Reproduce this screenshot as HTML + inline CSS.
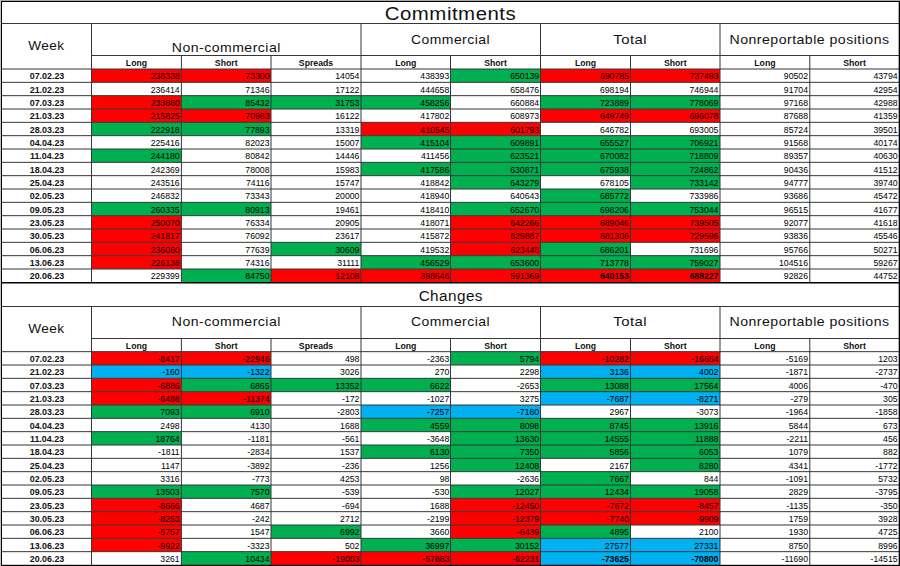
<!DOCTYPE html><html><head><meta charset="utf-8"><style>html,body{margin:0;padding:0;background:#fff;}svg{display:block}text{font-family:"Liberation Sans",sans-serif;}</style></head><body>
<svg width="900" height="566" viewBox="0 0 900 566">
<rect x="0" y="0" width="900" height="566" fill="#fff"/>
<rect x="91.50" y="69.00" width="89.90" height="13.333" fill="#ff0000"/>
<rect x="181.40" y="69.00" width="89.60" height="13.333" fill="#ff0000"/>
<rect x="450.50" y="69.00" width="90.00" height="13.333" fill="#00b050"/>
<rect x="540.50" y="69.00" width="90.00" height="13.333" fill="#ff0000"/>
<rect x="630.50" y="69.00" width="89.50" height="13.333" fill="#ff0000"/>
<rect x="91.50" y="95.67" width="89.90" height="13.333" fill="#ff0000"/>
<rect x="181.40" y="95.67" width="89.60" height="13.333" fill="#00b050"/>
<rect x="271.00" y="95.67" width="90.00" height="13.333" fill="#00b050"/>
<rect x="361.00" y="95.67" width="89.50" height="13.333" fill="#00b050"/>
<rect x="540.50" y="95.67" width="90.00" height="13.333" fill="#00b050"/>
<rect x="630.50" y="95.67" width="89.50" height="13.333" fill="#00b050"/>
<rect x="91.50" y="109.00" width="89.90" height="13.333" fill="#ff0000"/>
<rect x="181.40" y="109.00" width="89.60" height="13.333" fill="#ff0000"/>
<rect x="540.50" y="109.00" width="90.00" height="13.333" fill="#ff0000"/>
<rect x="630.50" y="109.00" width="89.50" height="13.333" fill="#ff0000"/>
<rect x="91.50" y="122.33" width="89.90" height="13.333" fill="#00b050"/>
<rect x="181.40" y="122.33" width="89.60" height="13.333" fill="#00b050"/>
<rect x="361.00" y="122.33" width="89.50" height="13.333" fill="#ff0000"/>
<rect x="450.50" y="122.33" width="90.00" height="13.333" fill="#ff0000"/>
<rect x="361.00" y="135.67" width="89.50" height="13.333" fill="#00b050"/>
<rect x="450.50" y="135.67" width="90.00" height="13.333" fill="#00b050"/>
<rect x="540.50" y="135.67" width="90.00" height="13.333" fill="#00b050"/>
<rect x="630.50" y="135.67" width="89.50" height="13.333" fill="#00b050"/>
<rect x="91.50" y="149.00" width="89.90" height="13.333" fill="#00b050"/>
<rect x="450.50" y="149.00" width="90.00" height="13.333" fill="#00b050"/>
<rect x="540.50" y="149.00" width="90.00" height="13.333" fill="#00b050"/>
<rect x="630.50" y="149.00" width="89.50" height="13.333" fill="#00b050"/>
<rect x="361.00" y="162.33" width="89.50" height="13.333" fill="#00b050"/>
<rect x="450.50" y="162.33" width="90.00" height="13.333" fill="#00b050"/>
<rect x="540.50" y="162.33" width="90.00" height="13.333" fill="#00b050"/>
<rect x="630.50" y="162.33" width="89.50" height="13.333" fill="#00b050"/>
<rect x="450.50" y="175.66" width="90.00" height="13.333" fill="#00b050"/>
<rect x="630.50" y="175.66" width="89.50" height="13.333" fill="#00b050"/>
<rect x="540.50" y="189.00" width="90.00" height="13.333" fill="#00b050"/>
<rect x="91.50" y="202.33" width="89.90" height="13.333" fill="#00b050"/>
<rect x="181.40" y="202.33" width="89.60" height="13.333" fill="#00b050"/>
<rect x="450.50" y="202.33" width="90.00" height="13.333" fill="#00b050"/>
<rect x="540.50" y="202.33" width="90.00" height="13.333" fill="#00b050"/>
<rect x="630.50" y="202.33" width="89.50" height="13.333" fill="#00b050"/>
<rect x="91.50" y="215.66" width="89.90" height="13.333" fill="#ff0000"/>
<rect x="450.50" y="215.66" width="90.00" height="13.333" fill="#ff0000"/>
<rect x="540.50" y="215.66" width="90.00" height="13.333" fill="#ff0000"/>
<rect x="630.50" y="215.66" width="89.50" height="13.333" fill="#ff0000"/>
<rect x="91.50" y="229.00" width="89.90" height="13.333" fill="#ff0000"/>
<rect x="450.50" y="229.00" width="90.00" height="13.333" fill="#ff0000"/>
<rect x="540.50" y="229.00" width="90.00" height="13.333" fill="#ff0000"/>
<rect x="630.50" y="229.00" width="89.50" height="13.333" fill="#ff0000"/>
<rect x="91.50" y="242.33" width="89.90" height="13.333" fill="#ff0000"/>
<rect x="271.00" y="242.33" width="90.00" height="13.333" fill="#00b050"/>
<rect x="450.50" y="242.33" width="90.00" height="13.333" fill="#ff0000"/>
<rect x="540.50" y="242.33" width="90.00" height="13.333" fill="#00b050"/>
<rect x="91.50" y="255.66" width="89.90" height="13.333" fill="#ff0000"/>
<rect x="361.00" y="255.66" width="89.50" height="13.333" fill="#00b050"/>
<rect x="450.50" y="255.66" width="90.00" height="13.333" fill="#00b050"/>
<rect x="540.50" y="255.66" width="90.00" height="13.333" fill="#00b050"/>
<rect x="630.50" y="255.66" width="89.50" height="13.333" fill="#00b050"/>
<rect x="181.40" y="269.00" width="89.60" height="13.333" fill="#00b050"/>
<rect x="271.00" y="269.00" width="90.00" height="13.333" fill="#ff0000"/>
<rect x="361.00" y="269.00" width="89.50" height="13.333" fill="#ff0000"/>
<rect x="450.50" y="269.00" width="90.00" height="13.333" fill="#ff0000"/>
<rect x="540.50" y="269.00" width="90.00" height="13.333" fill="#ff0000"/>
<rect x="630.50" y="269.00" width="89.50" height="13.333" fill="#ff0000"/>
<line x1="1" x2="899" y1="23.5" y2="23.5" stroke="#363636" stroke-width="1"/>
<line x1="91.5" x2="899" y1="55.5" y2="55.5" stroke="#363636" stroke-width="1"/>
<line x1="1" x2="899" y1="69.00" y2="69.00" stroke="#363636" stroke-width="1"/>
<line x1="1" x2="899" y1="82.33" y2="82.33" stroke="#363636" stroke-width="1"/>
<line x1="1" x2="899" y1="95.67" y2="95.67" stroke="#363636" stroke-width="1"/>
<line x1="1" x2="899" y1="109.00" y2="109.00" stroke="#363636" stroke-width="1"/>
<line x1="1" x2="899" y1="122.33" y2="122.33" stroke="#363636" stroke-width="1"/>
<line x1="1" x2="899" y1="135.67" y2="135.67" stroke="#363636" stroke-width="1"/>
<line x1="1" x2="899" y1="149.00" y2="149.00" stroke="#363636" stroke-width="1"/>
<line x1="1" x2="899" y1="162.33" y2="162.33" stroke="#363636" stroke-width="1"/>
<line x1="1" x2="899" y1="175.66" y2="175.66" stroke="#363636" stroke-width="1"/>
<line x1="1" x2="899" y1="189.00" y2="189.00" stroke="#363636" stroke-width="1"/>
<line x1="1" x2="899" y1="202.33" y2="202.33" stroke="#363636" stroke-width="1"/>
<line x1="1" x2="899" y1="215.66" y2="215.66" stroke="#363636" stroke-width="1"/>
<line x1="1" x2="899" y1="229.00" y2="229.00" stroke="#363636" stroke-width="1"/>
<line x1="1" x2="899" y1="242.33" y2="242.33" stroke="#363636" stroke-width="1"/>
<line x1="1" x2="899" y1="255.66" y2="255.66" stroke="#363636" stroke-width="1"/>
<line x1="1" x2="899" y1="269.00" y2="269.00" stroke="#363636" stroke-width="1"/>
<line x1="91.5" x2="91.5" y1="23.5" y2="282.33" stroke="#363636" stroke-width="1"/>
<line x1="361.0" x2="361.0" y1="23.5" y2="282.33" stroke="#363636" stroke-width="1"/>
<line x1="540.5" x2="540.5" y1="23.5" y2="282.33" stroke="#363636" stroke-width="1"/>
<line x1="720.0" x2="720.0" y1="23.5" y2="282.33" stroke="#363636" stroke-width="1"/>
<line x1="181.4" x2="181.4" y1="55.5" y2="282.33" stroke="#363636" stroke-width="1"/>
<line x1="271.0" x2="271.0" y1="55.5" y2="282.33" stroke="#363636" stroke-width="1"/>
<line x1="450.5" x2="450.5" y1="55.5" y2="282.33" stroke="#363636" stroke-width="1"/>
<line x1="630.5" x2="630.5" y1="55.5" y2="282.33" stroke="#363636" stroke-width="1"/>
<line x1="809.8" x2="809.8" y1="55.5" y2="282.33" stroke="#363636" stroke-width="1"/>
<text x="450.5" y="20.0" font-size="18" text-anchor="middle" textLength="131.5" lengthAdjust="spacingAndGlyphs" letter-spacing="0.45" fill="#111">Commitments</text>
<text x="46.4" y="50.3" font-size="13.4" text-anchor="middle" textLength="36.5" lengthAdjust="spacingAndGlyphs" letter-spacing="0.45" fill="#111">Week</text>
<text x="226.3" y="52.2" font-size="13.4" text-anchor="middle" textLength="109" lengthAdjust="spacingAndGlyphs" letter-spacing="0.45" fill="#111">Non-commercial</text>
<text x="450.5" y="43.7" font-size="13.4" text-anchor="middle" textLength="79" lengthAdjust="spacingAndGlyphs" letter-spacing="0.45" fill="#111">Commercial</text>
<text x="630.2" y="43.7" font-size="13.4" text-anchor="middle" textLength="34" lengthAdjust="spacingAndGlyphs" letter-spacing="0.45" fill="#111">Total</text>
<text x="809.5" y="43.7" font-size="13.4" text-anchor="middle" textLength="160" lengthAdjust="spacingAndGlyphs" letter-spacing="0.45" fill="#111">Nonreportable positions</text>
<text x="136.45" y="65.9" font-size="8.7" font-weight="bold" text-anchor="middle" fill="#111">Long</text>
<text x="226.20" y="65.9" font-size="8.7" font-weight="bold" text-anchor="middle" fill="#111">Short</text>
<text x="316.00" y="65.9" font-size="8.7" font-weight="bold" text-anchor="middle" fill="#111">Spreads</text>
<text x="405.75" y="65.9" font-size="8.7" font-weight="bold" text-anchor="middle" fill="#111">Long</text>
<text x="495.50" y="65.9" font-size="8.7" font-weight="bold" text-anchor="middle" fill="#111">Short</text>
<text x="585.50" y="65.9" font-size="8.7" font-weight="bold" text-anchor="middle" fill="#111">Long</text>
<text x="675.25" y="65.9" font-size="8.7" font-weight="bold" text-anchor="middle" fill="#111">Short</text>
<text x="764.90" y="65.9" font-size="8.7" font-weight="bold" text-anchor="middle" fill="#111">Long</text>
<text x="854.50" y="65.9" font-size="8.7" font-weight="bold" text-anchor="middle" fill="#111">Short</text>
<text x="47.0" y="79.30" font-size="8.9" font-weight="bold" text-anchor="middle" fill="#111">07.02.23</text>
<text x="179.7" y="79.30" font-size="8.7" text-anchor="end" fill="#000">238338</text>
<text x="269.5" y="79.30" font-size="8.7" text-anchor="end" fill="#000">73300</text>
<text x="359.4" y="79.30" font-size="8.7" text-anchor="end" fill="#000">14054</text>
<text x="449.3" y="79.30" font-size="8.7" text-anchor="end" fill="#000">438393</text>
<text x="539.2" y="79.30" font-size="8.7" text-anchor="end" fill="#000">650139</text>
<text x="628.9" y="79.30" font-size="8.7" text-anchor="end" fill="#000">690785</text>
<text x="718.4" y="79.30" font-size="8.7" text-anchor="end" fill="#000">737493</text>
<text x="808.0" y="79.30" font-size="8.7" text-anchor="end" fill="#000">90502</text>
<text x="897.6" y="79.30" font-size="8.7" text-anchor="end" fill="#000">43794</text>
<text x="47.0" y="92.63" font-size="8.9" font-weight="bold" text-anchor="middle" fill="#111">21.02.23</text>
<text x="179.7" y="92.63" font-size="8.7" text-anchor="end" fill="#000">236414</text>
<text x="269.5" y="92.63" font-size="8.7" text-anchor="end" fill="#000">71346</text>
<text x="359.4" y="92.63" font-size="8.7" text-anchor="end" fill="#000">17122</text>
<text x="449.3" y="92.63" font-size="8.7" text-anchor="end" fill="#000">444658</text>
<text x="539.2" y="92.63" font-size="8.7" text-anchor="end" fill="#000">658476</text>
<text x="628.9" y="92.63" font-size="8.7" text-anchor="end" fill="#000">698194</text>
<text x="718.4" y="92.63" font-size="8.7" text-anchor="end" fill="#000">746944</text>
<text x="808.0" y="92.63" font-size="8.7" text-anchor="end" fill="#000">91704</text>
<text x="897.6" y="92.63" font-size="8.7" text-anchor="end" fill="#000">42954</text>
<text x="47.0" y="105.97" font-size="8.9" font-weight="bold" text-anchor="middle" fill="#111">07.03.23</text>
<text x="179.7" y="105.97" font-size="8.7" text-anchor="end" fill="#000">233880</text>
<text x="269.5" y="105.97" font-size="8.7" text-anchor="end" fill="#000">85432</text>
<text x="359.4" y="105.97" font-size="8.7" text-anchor="end" fill="#000">31753</text>
<text x="449.3" y="105.97" font-size="8.7" text-anchor="end" fill="#000">458256</text>
<text x="539.2" y="105.97" font-size="8.7" text-anchor="end" fill="#000">660884</text>
<text x="628.9" y="105.97" font-size="8.7" text-anchor="end" fill="#000">723889</text>
<text x="718.4" y="105.97" font-size="8.7" text-anchor="end" fill="#000">778069</text>
<text x="808.0" y="105.97" font-size="8.7" text-anchor="end" fill="#000">97168</text>
<text x="897.6" y="105.97" font-size="8.7" text-anchor="end" fill="#000">42988</text>
<text x="47.0" y="119.30" font-size="8.9" font-weight="bold" text-anchor="middle" fill="#111">21.03.23</text>
<text x="179.7" y="119.30" font-size="8.7" text-anchor="end" fill="#000">215825</text>
<text x="269.5" y="119.30" font-size="8.7" text-anchor="end" fill="#000">70983</text>
<text x="359.4" y="119.30" font-size="8.7" text-anchor="end" fill="#000">16122</text>
<text x="449.3" y="119.30" font-size="8.7" text-anchor="end" fill="#000">417802</text>
<text x="539.2" y="119.30" font-size="8.7" text-anchor="end" fill="#000">608973</text>
<text x="628.9" y="119.30" font-size="8.7" text-anchor="end" fill="#000">649749</text>
<text x="718.4" y="119.30" font-size="8.7" text-anchor="end" fill="#000">696078</text>
<text x="808.0" y="119.30" font-size="8.7" text-anchor="end" fill="#000">87688</text>
<text x="897.6" y="119.30" font-size="8.7" text-anchor="end" fill="#000">41359</text>
<text x="47.0" y="132.63" font-size="8.9" font-weight="bold" text-anchor="middle" fill="#111">28.03.23</text>
<text x="179.7" y="132.63" font-size="8.7" text-anchor="end" fill="#000">222918</text>
<text x="269.5" y="132.63" font-size="8.7" text-anchor="end" fill="#000">77893</text>
<text x="359.4" y="132.63" font-size="8.7" text-anchor="end" fill="#000">13319</text>
<text x="449.3" y="132.63" font-size="8.7" text-anchor="end" fill="#000">410545</text>
<text x="539.2" y="132.63" font-size="8.7" text-anchor="end" fill="#000">601793</text>
<text x="628.9" y="132.63" font-size="8.7" text-anchor="end" fill="#000">646782</text>
<text x="718.4" y="132.63" font-size="8.7" text-anchor="end" fill="#000">693005</text>
<text x="808.0" y="132.63" font-size="8.7" text-anchor="end" fill="#000">85724</text>
<text x="897.6" y="132.63" font-size="8.7" text-anchor="end" fill="#000">39501</text>
<text x="47.0" y="145.97" font-size="8.9" font-weight="bold" text-anchor="middle" fill="#111">04.04.23</text>
<text x="179.7" y="145.97" font-size="8.7" text-anchor="end" fill="#000">225416</text>
<text x="269.5" y="145.97" font-size="8.7" text-anchor="end" fill="#000">82023</text>
<text x="359.4" y="145.97" font-size="8.7" text-anchor="end" fill="#000">15007</text>
<text x="449.3" y="145.97" font-size="8.7" text-anchor="end" fill="#000">415104</text>
<text x="539.2" y="145.97" font-size="8.7" text-anchor="end" fill="#000">609891</text>
<text x="628.9" y="145.97" font-size="8.7" text-anchor="end" fill="#000">655527</text>
<text x="718.4" y="145.97" font-size="8.7" text-anchor="end" fill="#000">706921</text>
<text x="808.0" y="145.97" font-size="8.7" text-anchor="end" fill="#000">91568</text>
<text x="897.6" y="145.97" font-size="8.7" text-anchor="end" fill="#000">40174</text>
<text x="47.0" y="159.30" font-size="8.9" font-weight="bold" text-anchor="middle" fill="#111">11.04.23</text>
<text x="179.7" y="159.30" font-size="8.7" text-anchor="end" fill="#000">244180</text>
<text x="269.5" y="159.30" font-size="8.7" text-anchor="end" fill="#000">80842</text>
<text x="359.4" y="159.30" font-size="8.7" text-anchor="end" fill="#000">14446</text>
<text x="449.3" y="159.30" font-size="8.7" text-anchor="end" fill="#000">411456</text>
<text x="539.2" y="159.30" font-size="8.7" text-anchor="end" fill="#000">623521</text>
<text x="628.9" y="159.30" font-size="8.7" text-anchor="end" fill="#000">670082</text>
<text x="718.4" y="159.30" font-size="8.7" text-anchor="end" fill="#000">718809</text>
<text x="808.0" y="159.30" font-size="8.7" text-anchor="end" fill="#000">89357</text>
<text x="897.6" y="159.30" font-size="8.7" text-anchor="end" fill="#000">40630</text>
<text x="47.0" y="172.63" font-size="8.9" font-weight="bold" text-anchor="middle" fill="#111">18.04.23</text>
<text x="179.7" y="172.63" font-size="8.7" text-anchor="end" fill="#000">242369</text>
<text x="269.5" y="172.63" font-size="8.7" text-anchor="end" fill="#000">78008</text>
<text x="359.4" y="172.63" font-size="8.7" text-anchor="end" fill="#000">15983</text>
<text x="449.3" y="172.63" font-size="8.7" text-anchor="end" fill="#000">417586</text>
<text x="539.2" y="172.63" font-size="8.7" text-anchor="end" fill="#000">630871</text>
<text x="628.9" y="172.63" font-size="8.7" text-anchor="end" fill="#000">675938</text>
<text x="718.4" y="172.63" font-size="8.7" text-anchor="end" fill="#000">724862</text>
<text x="808.0" y="172.63" font-size="8.7" text-anchor="end" fill="#000">90436</text>
<text x="897.6" y="172.63" font-size="8.7" text-anchor="end" fill="#000">41512</text>
<text x="47.0" y="185.96" font-size="8.9" font-weight="bold" text-anchor="middle" fill="#111">25.04.23</text>
<text x="179.7" y="185.96" font-size="8.7" text-anchor="end" fill="#000">243516</text>
<text x="269.5" y="185.96" font-size="8.7" text-anchor="end" fill="#000">74116</text>
<text x="359.4" y="185.96" font-size="8.7" text-anchor="end" fill="#000">15747</text>
<text x="449.3" y="185.96" font-size="8.7" text-anchor="end" fill="#000">418842</text>
<text x="539.2" y="185.96" font-size="8.7" text-anchor="end" fill="#000">643279</text>
<text x="628.9" y="185.96" font-size="8.7" text-anchor="end" fill="#000">678105</text>
<text x="718.4" y="185.96" font-size="8.7" text-anchor="end" fill="#000">733142</text>
<text x="808.0" y="185.96" font-size="8.7" text-anchor="end" fill="#000">94777</text>
<text x="897.6" y="185.96" font-size="8.7" text-anchor="end" fill="#000">39740</text>
<text x="47.0" y="199.30" font-size="8.9" font-weight="bold" text-anchor="middle" fill="#111">02.05.23</text>
<text x="179.7" y="199.30" font-size="8.7" text-anchor="end" fill="#000">246832</text>
<text x="269.5" y="199.30" font-size="8.7" text-anchor="end" fill="#000">73343</text>
<text x="359.4" y="199.30" font-size="8.7" text-anchor="end" fill="#000">20000</text>
<text x="449.3" y="199.30" font-size="8.7" text-anchor="end" fill="#000">418940</text>
<text x="539.2" y="199.30" font-size="8.7" text-anchor="end" fill="#000">640643</text>
<text x="628.9" y="199.30" font-size="8.7" text-anchor="end" fill="#000">685772</text>
<text x="718.4" y="199.30" font-size="8.7" text-anchor="end" fill="#000">733986</text>
<text x="808.0" y="199.30" font-size="8.7" text-anchor="end" fill="#000">93686</text>
<text x="897.6" y="199.30" font-size="8.7" text-anchor="end" fill="#000">45472</text>
<text x="47.0" y="212.63" font-size="8.9" font-weight="bold" text-anchor="middle" fill="#111">09.05.23</text>
<text x="179.7" y="212.63" font-size="8.7" text-anchor="end" fill="#000">260335</text>
<text x="269.5" y="212.63" font-size="8.7" text-anchor="end" fill="#000">80913</text>
<text x="359.4" y="212.63" font-size="8.7" text-anchor="end" fill="#000">19461</text>
<text x="449.3" y="212.63" font-size="8.7" text-anchor="end" fill="#000">418410</text>
<text x="539.2" y="212.63" font-size="8.7" text-anchor="end" fill="#000">652670</text>
<text x="628.9" y="212.63" font-size="8.7" text-anchor="end" fill="#000">698206</text>
<text x="718.4" y="212.63" font-size="8.7" text-anchor="end" fill="#000">753044</text>
<text x="808.0" y="212.63" font-size="8.7" text-anchor="end" fill="#000">96515</text>
<text x="897.6" y="212.63" font-size="8.7" text-anchor="end" fill="#000">41677</text>
<text x="47.0" y="225.96" font-size="8.9" font-weight="bold" text-anchor="middle" fill="#111">23.05.23</text>
<text x="179.7" y="225.96" font-size="8.7" text-anchor="end" fill="#000">250070</text>
<text x="269.5" y="225.96" font-size="8.7" text-anchor="end" fill="#000">76334</text>
<text x="359.4" y="225.96" font-size="8.7" text-anchor="end" fill="#000">20905</text>
<text x="449.3" y="225.96" font-size="8.7" text-anchor="end" fill="#000">418071</text>
<text x="539.2" y="225.96" font-size="8.7" text-anchor="end" fill="#000">642266</text>
<text x="628.9" y="225.96" font-size="8.7" text-anchor="end" fill="#000">689046</text>
<text x="718.4" y="225.96" font-size="8.7" text-anchor="end" fill="#000">739505</text>
<text x="808.0" y="225.96" font-size="8.7" text-anchor="end" fill="#000">92077</text>
<text x="897.6" y="225.96" font-size="8.7" text-anchor="end" fill="#000">41618</text>
<text x="47.0" y="239.30" font-size="8.9" font-weight="bold" text-anchor="middle" fill="#111">30.05.23</text>
<text x="179.7" y="239.30" font-size="8.7" text-anchor="end" fill="#000">241817</text>
<text x="269.5" y="239.30" font-size="8.7" text-anchor="end" fill="#000">76092</text>
<text x="359.4" y="239.30" font-size="8.7" text-anchor="end" fill="#000">23617</text>
<text x="449.3" y="239.30" font-size="8.7" text-anchor="end" fill="#000">415872</text>
<text x="539.2" y="239.30" font-size="8.7" text-anchor="end" fill="#000">629887</text>
<text x="628.9" y="239.30" font-size="8.7" text-anchor="end" fill="#000">681306</text>
<text x="718.4" y="239.30" font-size="8.7" text-anchor="end" fill="#000">729596</text>
<text x="808.0" y="239.30" font-size="8.7" text-anchor="end" fill="#000">93836</text>
<text x="897.6" y="239.30" font-size="8.7" text-anchor="end" fill="#000">45546</text>
<text x="47.0" y="252.63" font-size="8.9" font-weight="bold" text-anchor="middle" fill="#111">06.06.23</text>
<text x="179.7" y="252.63" font-size="8.7" text-anchor="end" fill="#000">236060</text>
<text x="269.5" y="252.63" font-size="8.7" text-anchor="end" fill="#000">77639</text>
<text x="359.4" y="252.63" font-size="8.7" text-anchor="end" fill="#000">30609</text>
<text x="449.3" y="252.63" font-size="8.7" text-anchor="end" fill="#000">419532</text>
<text x="539.2" y="252.63" font-size="8.7" text-anchor="end" fill="#000">623448</text>
<text x="628.9" y="252.63" font-size="8.7" text-anchor="end" fill="#000">686201</text>
<text x="718.4" y="252.63" font-size="8.7" text-anchor="end" fill="#000">731696</text>
<text x="808.0" y="252.63" font-size="8.7" text-anchor="end" fill="#000">95766</text>
<text x="897.6" y="252.63" font-size="8.7" text-anchor="end" fill="#000">50271</text>
<text x="47.0" y="265.96" font-size="8.9" font-weight="bold" text-anchor="middle" fill="#111">13.06.23</text>
<text x="179.7" y="265.96" font-size="8.7" text-anchor="end" fill="#000">226138</text>
<text x="269.5" y="265.96" font-size="8.7" text-anchor="end" fill="#000">74316</text>
<text x="359.4" y="265.96" font-size="8.7" text-anchor="end" fill="#000">31111</text>
<text x="449.3" y="265.96" font-size="8.7" text-anchor="end" fill="#000">456529</text>
<text x="539.2" y="265.96" font-size="8.7" text-anchor="end" fill="#000">653600</text>
<text x="628.9" y="265.96" font-size="8.7" text-anchor="end" fill="#000">713778</text>
<text x="718.4" y="265.96" font-size="8.7" text-anchor="end" fill="#000">759027</text>
<text x="808.0" y="265.96" font-size="8.7" text-anchor="end" fill="#000">104516</text>
<text x="897.6" y="265.96" font-size="8.7" text-anchor="end" fill="#000">59267</text>
<text x="47.0" y="279.30" font-size="8.9" font-weight="bold" text-anchor="middle" fill="#111">20.06.23</text>
<text x="179.7" y="279.30" font-size="8.7" text-anchor="end" fill="#000">229399</text>
<text x="269.5" y="279.30" font-size="8.7" text-anchor="end" fill="#000">84750</text>
<text x="359.4" y="279.30" font-size="8.7" text-anchor="end" fill="#000">12108</text>
<text x="449.3" y="279.30" font-size="8.7" text-anchor="end" fill="#000">398646</text>
<text x="539.2" y="279.30" font-size="8.7" text-anchor="end" fill="#000">591369</text>
<text x="628.9" y="279.30" font-size="8.7" font-weight="bold" text-anchor="end" fill="#000">640153</text>
<text x="718.4" y="279.30" font-size="8.7" font-weight="bold" text-anchor="end" fill="#000">688227</text>
<text x="808.0" y="279.30" font-size="8.7" text-anchor="end" fill="#000">92826</text>
<text x="897.6" y="279.30" font-size="8.7" text-anchor="end" fill="#000">44752</text>
<rect x="91.50" y="351.67" width="89.90" height="13.333" fill="#ff0000"/>
<rect x="181.40" y="351.67" width="89.60" height="13.333" fill="#ff0000"/>
<rect x="450.50" y="351.67" width="90.00" height="13.333" fill="#00b050"/>
<rect x="540.50" y="351.67" width="90.00" height="13.333" fill="#ff0000"/>
<rect x="630.50" y="351.67" width="89.50" height="13.333" fill="#ff0000"/>
<rect x="91.50" y="365.00" width="89.90" height="13.333" fill="#00b0f0"/>
<rect x="181.40" y="365.00" width="89.60" height="13.333" fill="#00b0f0"/>
<rect x="540.50" y="365.00" width="90.00" height="13.333" fill="#00b0f0"/>
<rect x="630.50" y="365.00" width="89.50" height="13.333" fill="#00b0f0"/>
<rect x="91.50" y="378.34" width="89.90" height="13.333" fill="#ff0000"/>
<rect x="181.40" y="378.34" width="89.60" height="13.333" fill="#00b050"/>
<rect x="271.00" y="378.34" width="90.00" height="13.333" fill="#00b050"/>
<rect x="361.00" y="378.34" width="89.50" height="13.333" fill="#00b050"/>
<rect x="540.50" y="378.34" width="90.00" height="13.333" fill="#00b050"/>
<rect x="630.50" y="378.34" width="89.50" height="13.333" fill="#00b050"/>
<rect x="91.50" y="391.67" width="89.90" height="13.333" fill="#ff0000"/>
<rect x="181.40" y="391.67" width="89.60" height="13.333" fill="#ff0000"/>
<rect x="540.50" y="391.67" width="90.00" height="13.333" fill="#00b0f0"/>
<rect x="630.50" y="391.67" width="89.50" height="13.333" fill="#00b0f0"/>
<rect x="91.50" y="405.00" width="89.90" height="13.333" fill="#00b050"/>
<rect x="181.40" y="405.00" width="89.60" height="13.333" fill="#00b050"/>
<rect x="361.00" y="405.00" width="89.50" height="13.333" fill="#00b0f0"/>
<rect x="450.50" y="405.00" width="90.00" height="13.333" fill="#00b0f0"/>
<rect x="361.00" y="418.34" width="89.50" height="13.333" fill="#00b050"/>
<rect x="450.50" y="418.34" width="90.00" height="13.333" fill="#00b050"/>
<rect x="540.50" y="418.34" width="90.00" height="13.333" fill="#00b050"/>
<rect x="630.50" y="418.34" width="89.50" height="13.333" fill="#00b050"/>
<rect x="91.50" y="431.67" width="89.90" height="13.333" fill="#00b050"/>
<rect x="450.50" y="431.67" width="90.00" height="13.333" fill="#00b050"/>
<rect x="540.50" y="431.67" width="90.00" height="13.333" fill="#00b050"/>
<rect x="630.50" y="431.67" width="89.50" height="13.333" fill="#00b050"/>
<rect x="361.00" y="445.00" width="89.50" height="13.333" fill="#00b050"/>
<rect x="450.50" y="445.00" width="90.00" height="13.333" fill="#00b050"/>
<rect x="540.50" y="445.00" width="90.00" height="13.333" fill="#00b050"/>
<rect x="630.50" y="445.00" width="89.50" height="13.333" fill="#00b050"/>
<rect x="450.50" y="458.33" width="90.00" height="13.333" fill="#00b050"/>
<rect x="630.50" y="458.33" width="89.50" height="13.333" fill="#00b050"/>
<rect x="540.50" y="471.67" width="90.00" height="13.333" fill="#00b050"/>
<rect x="91.50" y="485.00" width="89.90" height="13.333" fill="#00b050"/>
<rect x="181.40" y="485.00" width="89.60" height="13.333" fill="#00b050"/>
<rect x="450.50" y="485.00" width="90.00" height="13.333" fill="#00b050"/>
<rect x="540.50" y="485.00" width="90.00" height="13.333" fill="#00b050"/>
<rect x="630.50" y="485.00" width="89.50" height="13.333" fill="#00b050"/>
<rect x="91.50" y="498.33" width="89.90" height="13.333" fill="#ff0000"/>
<rect x="450.50" y="498.33" width="90.00" height="13.333" fill="#ff0000"/>
<rect x="540.50" y="498.33" width="90.00" height="13.333" fill="#ff0000"/>
<rect x="630.50" y="498.33" width="89.50" height="13.333" fill="#ff0000"/>
<rect x="91.50" y="511.67" width="89.90" height="13.333" fill="#ff0000"/>
<rect x="450.50" y="511.67" width="90.00" height="13.333" fill="#ff0000"/>
<rect x="540.50" y="511.67" width="90.00" height="13.333" fill="#ff0000"/>
<rect x="630.50" y="511.67" width="89.50" height="13.333" fill="#ff0000"/>
<rect x="91.50" y="525.00" width="89.90" height="13.333" fill="#ff0000"/>
<rect x="271.00" y="525.00" width="90.00" height="13.333" fill="#00b050"/>
<rect x="450.50" y="525.00" width="90.00" height="13.333" fill="#ff0000"/>
<rect x="540.50" y="525.00" width="90.00" height="13.333" fill="#00b050"/>
<rect x="91.50" y="538.33" width="89.90" height="13.333" fill="#ff0000"/>
<rect x="361.00" y="538.33" width="89.50" height="13.333" fill="#00b050"/>
<rect x="450.50" y="538.33" width="90.00" height="13.333" fill="#00b050"/>
<rect x="540.50" y="538.33" width="90.00" height="13.333" fill="#00b0f0"/>
<rect x="630.50" y="538.33" width="89.50" height="13.333" fill="#00b0f0"/>
<rect x="181.40" y="551.66" width="89.60" height="13.333" fill="#00b050"/>
<rect x="271.00" y="551.66" width="90.00" height="13.333" fill="#ff0000"/>
<rect x="361.00" y="551.66" width="89.50" height="13.333" fill="#ff0000"/>
<rect x="450.50" y="551.66" width="90.00" height="13.333" fill="#ff0000"/>
<rect x="540.50" y="551.66" width="90.00" height="13.333" fill="#00b0f0"/>
<rect x="630.50" y="551.66" width="89.50" height="13.333" fill="#00b0f0"/>
<line x1="1" x2="899" y1="306.5" y2="306.5" stroke="#363636" stroke-width="1"/>
<line x1="91.5" x2="899" y1="338.5" y2="338.5" stroke="#363636" stroke-width="1"/>
<line x1="1" x2="899" y1="351.67" y2="351.67" stroke="#363636" stroke-width="1"/>
<line x1="1" x2="899" y1="365.00" y2="365.00" stroke="#363636" stroke-width="1"/>
<line x1="1" x2="899" y1="378.34" y2="378.34" stroke="#363636" stroke-width="1"/>
<line x1="1" x2="899" y1="391.67" y2="391.67" stroke="#363636" stroke-width="1"/>
<line x1="1" x2="899" y1="405.00" y2="405.00" stroke="#363636" stroke-width="1"/>
<line x1="1" x2="899" y1="418.34" y2="418.34" stroke="#363636" stroke-width="1"/>
<line x1="1" x2="899" y1="431.67" y2="431.67" stroke="#363636" stroke-width="1"/>
<line x1="1" x2="899" y1="445.00" y2="445.00" stroke="#363636" stroke-width="1"/>
<line x1="1" x2="899" y1="458.33" y2="458.33" stroke="#363636" stroke-width="1"/>
<line x1="1" x2="899" y1="471.67" y2="471.67" stroke="#363636" stroke-width="1"/>
<line x1="1" x2="899" y1="485.00" y2="485.00" stroke="#363636" stroke-width="1"/>
<line x1="1" x2="899" y1="498.33" y2="498.33" stroke="#363636" stroke-width="1"/>
<line x1="1" x2="899" y1="511.67" y2="511.67" stroke="#363636" stroke-width="1"/>
<line x1="1" x2="899" y1="525.00" y2="525.00" stroke="#363636" stroke-width="1"/>
<line x1="1" x2="899" y1="538.33" y2="538.33" stroke="#363636" stroke-width="1"/>
<line x1="1" x2="899" y1="551.66" y2="551.66" stroke="#363636" stroke-width="1"/>
<line x1="91.5" x2="91.5" y1="306.5" y2="565.00" stroke="#363636" stroke-width="1"/>
<line x1="361.0" x2="361.0" y1="306.5" y2="565.00" stroke="#363636" stroke-width="1"/>
<line x1="540.5" x2="540.5" y1="306.5" y2="565.00" stroke="#363636" stroke-width="1"/>
<line x1="720.0" x2="720.0" y1="306.5" y2="565.00" stroke="#363636" stroke-width="1"/>
<line x1="181.4" x2="181.4" y1="338.5" y2="565.00" stroke="#363636" stroke-width="1"/>
<line x1="271.0" x2="271.0" y1="338.5" y2="565.00" stroke="#363636" stroke-width="1"/>
<line x1="450.5" x2="450.5" y1="338.5" y2="565.00" stroke="#363636" stroke-width="1"/>
<line x1="630.5" x2="630.5" y1="338.5" y2="565.00" stroke="#363636" stroke-width="1"/>
<line x1="809.8" x2="809.8" y1="338.5" y2="565.00" stroke="#363636" stroke-width="1"/>
<text x="450.8" y="300.8" font-size="15.3" text-anchor="middle" textLength="64.3" lengthAdjust="spacingAndGlyphs" letter-spacing="0.45" fill="#111">Changes</text>
<text x="46.4" y="333.0" font-size="13.4" text-anchor="middle" textLength="36.5" lengthAdjust="spacingAndGlyphs" letter-spacing="0.45" fill="#111">Week</text>
<text x="226.3" y="326.3" font-size="13.4" text-anchor="middle" textLength="109" lengthAdjust="spacingAndGlyphs" letter-spacing="0.45" fill="#111">Non-commercial</text>
<text x="450.5" y="326.4" font-size="13.4" text-anchor="middle" textLength="79" lengthAdjust="spacingAndGlyphs" letter-spacing="0.45" fill="#111">Commercial</text>
<text x="630.2" y="326.4" font-size="13.4" text-anchor="middle" textLength="34" lengthAdjust="spacingAndGlyphs" letter-spacing="0.45" fill="#111">Total</text>
<text x="809.5" y="326.4" font-size="13.4" text-anchor="middle" textLength="160" lengthAdjust="spacingAndGlyphs" letter-spacing="0.45" fill="#111">Nonreportable positions</text>
<text x="136.45" y="348.5" font-size="8.7" font-weight="bold" text-anchor="middle" fill="#111">Long</text>
<text x="226.20" y="348.5" font-size="8.7" font-weight="bold" text-anchor="middle" fill="#111">Short</text>
<text x="316.00" y="348.5" font-size="8.7" font-weight="bold" text-anchor="middle" fill="#111">Spreads</text>
<text x="405.75" y="348.5" font-size="8.7" font-weight="bold" text-anchor="middle" fill="#111">Long</text>
<text x="495.50" y="348.5" font-size="8.7" font-weight="bold" text-anchor="middle" fill="#111">Short</text>
<text x="585.50" y="348.5" font-size="8.7" font-weight="bold" text-anchor="middle" fill="#111">Long</text>
<text x="675.25" y="348.5" font-size="8.7" font-weight="bold" text-anchor="middle" fill="#111">Short</text>
<text x="764.90" y="348.5" font-size="8.7" font-weight="bold" text-anchor="middle" fill="#111">Long</text>
<text x="854.50" y="348.5" font-size="8.7" font-weight="bold" text-anchor="middle" fill="#111">Short</text>
<text x="47.0" y="361.97" font-size="8.9" font-weight="bold" text-anchor="middle" fill="#111">07.02.23</text>
<text x="179.7" y="361.97" font-size="8.7" text-anchor="end" fill="#000">-8417</text>
<text x="269.5" y="361.97" font-size="8.7" text-anchor="end" fill="#000">-22946</text>
<text x="359.4" y="361.97" font-size="8.7" text-anchor="end" fill="#000">498</text>
<text x="449.3" y="361.97" font-size="8.7" text-anchor="end" fill="#000">-2363</text>
<text x="539.2" y="361.97" font-size="8.7" text-anchor="end" fill="#000">5794</text>
<text x="628.9" y="361.97" font-size="8.7" text-anchor="end" fill="#000">-10282</text>
<text x="718.4" y="361.97" font-size="8.7" text-anchor="end" fill="#000">-16654</text>
<text x="808.0" y="361.97" font-size="8.7" text-anchor="end" fill="#000">-5169</text>
<text x="897.6" y="361.97" font-size="8.7" text-anchor="end" fill="#000">1203</text>
<text x="47.0" y="375.30" font-size="8.9" font-weight="bold" text-anchor="middle" fill="#111">21.02.23</text>
<text x="179.7" y="375.30" font-size="8.7" text-anchor="end" fill="#000">-160</text>
<text x="269.5" y="375.30" font-size="8.7" text-anchor="end" fill="#000">-1322</text>
<text x="359.4" y="375.30" font-size="8.7" text-anchor="end" fill="#000">3026</text>
<text x="449.3" y="375.30" font-size="8.7" text-anchor="end" fill="#000">270</text>
<text x="539.2" y="375.30" font-size="8.7" text-anchor="end" fill="#000">2298</text>
<text x="628.9" y="375.30" font-size="8.7" text-anchor="end" fill="#000">3136</text>
<text x="718.4" y="375.30" font-size="8.7" text-anchor="end" fill="#000">4002</text>
<text x="808.0" y="375.30" font-size="8.7" text-anchor="end" fill="#000">-1871</text>
<text x="897.6" y="375.30" font-size="8.7" text-anchor="end" fill="#000">-2737</text>
<text x="47.0" y="388.64" font-size="8.9" font-weight="bold" text-anchor="middle" fill="#111">07.03.23</text>
<text x="179.7" y="388.64" font-size="8.7" text-anchor="end" fill="#000">-6886</text>
<text x="269.5" y="388.64" font-size="8.7" text-anchor="end" fill="#000">6865</text>
<text x="359.4" y="388.64" font-size="8.7" text-anchor="end" fill="#000">13352</text>
<text x="449.3" y="388.64" font-size="8.7" text-anchor="end" fill="#000">6622</text>
<text x="539.2" y="388.64" font-size="8.7" text-anchor="end" fill="#000">-2653</text>
<text x="628.9" y="388.64" font-size="8.7" text-anchor="end" fill="#000">13088</text>
<text x="718.4" y="388.64" font-size="8.7" text-anchor="end" fill="#000">17564</text>
<text x="808.0" y="388.64" font-size="8.7" text-anchor="end" fill="#000">4006</text>
<text x="897.6" y="388.64" font-size="8.7" text-anchor="end" fill="#000">-470</text>
<text x="47.0" y="401.97" font-size="8.9" font-weight="bold" text-anchor="middle" fill="#111">21.03.23</text>
<text x="179.7" y="401.97" font-size="8.7" text-anchor="end" fill="#000">-6488</text>
<text x="269.5" y="401.97" font-size="8.7" text-anchor="end" fill="#000">-11374</text>
<text x="359.4" y="401.97" font-size="8.7" text-anchor="end" fill="#000">-172</text>
<text x="449.3" y="401.97" font-size="8.7" text-anchor="end" fill="#000">-1027</text>
<text x="539.2" y="401.97" font-size="8.7" text-anchor="end" fill="#000">3275</text>
<text x="628.9" y="401.97" font-size="8.7" text-anchor="end" fill="#000">-7687</text>
<text x="718.4" y="401.97" font-size="8.7" text-anchor="end" fill="#000">-8271</text>
<text x="808.0" y="401.97" font-size="8.7" text-anchor="end" fill="#000">-279</text>
<text x="897.6" y="401.97" font-size="8.7" text-anchor="end" fill="#000">305</text>
<text x="47.0" y="415.30" font-size="8.9" font-weight="bold" text-anchor="middle" fill="#111">28.03.23</text>
<text x="179.7" y="415.30" font-size="8.7" text-anchor="end" fill="#000">7093</text>
<text x="269.5" y="415.30" font-size="8.7" text-anchor="end" fill="#000">6910</text>
<text x="359.4" y="415.30" font-size="8.7" text-anchor="end" fill="#000">-2803</text>
<text x="449.3" y="415.30" font-size="8.7" text-anchor="end" fill="#000">-7257</text>
<text x="539.2" y="415.30" font-size="8.7" text-anchor="end" fill="#000">-7180</text>
<text x="628.9" y="415.30" font-size="8.7" text-anchor="end" fill="#000">2967</text>
<text x="718.4" y="415.30" font-size="8.7" text-anchor="end" fill="#000">-3073</text>
<text x="808.0" y="415.30" font-size="8.7" text-anchor="end" fill="#000">-1964</text>
<text x="897.6" y="415.30" font-size="8.7" text-anchor="end" fill="#000">-1858</text>
<text x="47.0" y="428.64" font-size="8.9" font-weight="bold" text-anchor="middle" fill="#111">04.04.23</text>
<text x="179.7" y="428.64" font-size="8.7" text-anchor="end" fill="#000">2498</text>
<text x="269.5" y="428.64" font-size="8.7" text-anchor="end" fill="#000">4130</text>
<text x="359.4" y="428.64" font-size="8.7" text-anchor="end" fill="#000">1688</text>
<text x="449.3" y="428.64" font-size="8.7" text-anchor="end" fill="#000">4559</text>
<text x="539.2" y="428.64" font-size="8.7" text-anchor="end" fill="#000">8098</text>
<text x="628.9" y="428.64" font-size="8.7" text-anchor="end" fill="#000">8745</text>
<text x="718.4" y="428.64" font-size="8.7" text-anchor="end" fill="#000">13916</text>
<text x="808.0" y="428.64" font-size="8.7" text-anchor="end" fill="#000">5844</text>
<text x="897.6" y="428.64" font-size="8.7" text-anchor="end" fill="#000">673</text>
<text x="47.0" y="441.97" font-size="8.9" font-weight="bold" text-anchor="middle" fill="#111">11.04.23</text>
<text x="179.7" y="441.97" font-size="8.7" text-anchor="end" fill="#000">18764</text>
<text x="269.5" y="441.97" font-size="8.7" text-anchor="end" fill="#000">-1181</text>
<text x="359.4" y="441.97" font-size="8.7" text-anchor="end" fill="#000">-561</text>
<text x="449.3" y="441.97" font-size="8.7" text-anchor="end" fill="#000">-3648</text>
<text x="539.2" y="441.97" font-size="8.7" text-anchor="end" fill="#000">13630</text>
<text x="628.9" y="441.97" font-size="8.7" text-anchor="end" fill="#000">14555</text>
<text x="718.4" y="441.97" font-size="8.7" text-anchor="end" fill="#000">11888</text>
<text x="808.0" y="441.97" font-size="8.7" text-anchor="end" fill="#000">-2211</text>
<text x="897.6" y="441.97" font-size="8.7" text-anchor="end" fill="#000">456</text>
<text x="47.0" y="455.30" font-size="8.9" font-weight="bold" text-anchor="middle" fill="#111">18.04.23</text>
<text x="179.7" y="455.30" font-size="8.7" text-anchor="end" fill="#000">-1811</text>
<text x="269.5" y="455.30" font-size="8.7" text-anchor="end" fill="#000">-2834</text>
<text x="359.4" y="455.30" font-size="8.7" text-anchor="end" fill="#000">1537</text>
<text x="449.3" y="455.30" font-size="8.7" text-anchor="end" fill="#000">6130</text>
<text x="539.2" y="455.30" font-size="8.7" text-anchor="end" fill="#000">7350</text>
<text x="628.9" y="455.30" font-size="8.7" text-anchor="end" fill="#000">5856</text>
<text x="718.4" y="455.30" font-size="8.7" text-anchor="end" fill="#000">6053</text>
<text x="808.0" y="455.30" font-size="8.7" text-anchor="end" fill="#000">1079</text>
<text x="897.6" y="455.30" font-size="8.7" text-anchor="end" fill="#000">882</text>
<text x="47.0" y="468.63" font-size="8.9" font-weight="bold" text-anchor="middle" fill="#111">25.04.23</text>
<text x="179.7" y="468.63" font-size="8.7" text-anchor="end" fill="#000">1147</text>
<text x="269.5" y="468.63" font-size="8.7" text-anchor="end" fill="#000">-3892</text>
<text x="359.4" y="468.63" font-size="8.7" text-anchor="end" fill="#000">-236</text>
<text x="449.3" y="468.63" font-size="8.7" text-anchor="end" fill="#000">1256</text>
<text x="539.2" y="468.63" font-size="8.7" text-anchor="end" fill="#000">12408</text>
<text x="628.9" y="468.63" font-size="8.7" text-anchor="end" fill="#000">2167</text>
<text x="718.4" y="468.63" font-size="8.7" text-anchor="end" fill="#000">8280</text>
<text x="808.0" y="468.63" font-size="8.7" text-anchor="end" fill="#000">4341</text>
<text x="897.6" y="468.63" font-size="8.7" text-anchor="end" fill="#000">-1772</text>
<text x="47.0" y="481.97" font-size="8.9" font-weight="bold" text-anchor="middle" fill="#111">02.05.23</text>
<text x="179.7" y="481.97" font-size="8.7" text-anchor="end" fill="#000">3316</text>
<text x="269.5" y="481.97" font-size="8.7" text-anchor="end" fill="#000">-773</text>
<text x="359.4" y="481.97" font-size="8.7" text-anchor="end" fill="#000">4253</text>
<text x="449.3" y="481.97" font-size="8.7" text-anchor="end" fill="#000">98</text>
<text x="539.2" y="481.97" font-size="8.7" text-anchor="end" fill="#000">-2636</text>
<text x="628.9" y="481.97" font-size="8.7" text-anchor="end" fill="#000">7667</text>
<text x="718.4" y="481.97" font-size="8.7" text-anchor="end" fill="#000">844</text>
<text x="808.0" y="481.97" font-size="8.7" text-anchor="end" fill="#000">-1091</text>
<text x="897.6" y="481.97" font-size="8.7" text-anchor="end" fill="#000">5732</text>
<text x="47.0" y="495.30" font-size="8.9" font-weight="bold" text-anchor="middle" fill="#111">09.05.23</text>
<text x="179.7" y="495.30" font-size="8.7" text-anchor="end" fill="#000">13503</text>
<text x="269.5" y="495.30" font-size="8.7" text-anchor="end" fill="#000">7570</text>
<text x="359.4" y="495.30" font-size="8.7" text-anchor="end" fill="#000">-539</text>
<text x="449.3" y="495.30" font-size="8.7" text-anchor="end" fill="#000">-530</text>
<text x="539.2" y="495.30" font-size="8.7" text-anchor="end" fill="#000">12027</text>
<text x="628.9" y="495.30" font-size="8.7" text-anchor="end" fill="#000">12434</text>
<text x="718.4" y="495.30" font-size="8.7" text-anchor="end" fill="#000">19058</text>
<text x="808.0" y="495.30" font-size="8.7" text-anchor="end" fill="#000">2829</text>
<text x="897.6" y="495.30" font-size="8.7" text-anchor="end" fill="#000">-3795</text>
<text x="47.0" y="508.63" font-size="8.9" font-weight="bold" text-anchor="middle" fill="#111">23.05.23</text>
<text x="179.7" y="508.63" font-size="8.7" text-anchor="end" fill="#000">-8666</text>
<text x="269.5" y="508.63" font-size="8.7" text-anchor="end" fill="#000">4687</text>
<text x="359.4" y="508.63" font-size="8.7" text-anchor="end" fill="#000">-694</text>
<text x="449.3" y="508.63" font-size="8.7" text-anchor="end" fill="#000">1688</text>
<text x="539.2" y="508.63" font-size="8.7" text-anchor="end" fill="#000">-12450</text>
<text x="628.9" y="508.63" font-size="8.7" text-anchor="end" fill="#000">-7672</text>
<text x="718.4" y="508.63" font-size="8.7" text-anchor="end" fill="#000">-8457</text>
<text x="808.0" y="508.63" font-size="8.7" text-anchor="end" fill="#000">-1135</text>
<text x="897.6" y="508.63" font-size="8.7" text-anchor="end" fill="#000">-350</text>
<text x="47.0" y="521.97" font-size="8.9" font-weight="bold" text-anchor="middle" fill="#111">30.05.23</text>
<text x="179.7" y="521.97" font-size="8.7" text-anchor="end" fill="#000">-8253</text>
<text x="269.5" y="521.97" font-size="8.7" text-anchor="end" fill="#000">-242</text>
<text x="359.4" y="521.97" font-size="8.7" text-anchor="end" fill="#000">2712</text>
<text x="449.3" y="521.97" font-size="8.7" text-anchor="end" fill="#000">-2199</text>
<text x="539.2" y="521.97" font-size="8.7" text-anchor="end" fill="#000">-12379</text>
<text x="628.9" y="521.97" font-size="8.7" text-anchor="end" fill="#000">-7740</text>
<text x="718.4" y="521.97" font-size="8.7" text-anchor="end" fill="#000">-9909</text>
<text x="808.0" y="521.97" font-size="8.7" text-anchor="end" fill="#000">1759</text>
<text x="897.6" y="521.97" font-size="8.7" text-anchor="end" fill="#000">3928</text>
<text x="47.0" y="535.30" font-size="8.9" font-weight="bold" text-anchor="middle" fill="#111">06.06.23</text>
<text x="179.7" y="535.30" font-size="8.7" text-anchor="end" fill="#000">-5757</text>
<text x="269.5" y="535.30" font-size="8.7" text-anchor="end" fill="#000">1547</text>
<text x="359.4" y="535.30" font-size="8.7" text-anchor="end" fill="#000">6992</text>
<text x="449.3" y="535.30" font-size="8.7" text-anchor="end" fill="#000">3660</text>
<text x="539.2" y="535.30" font-size="8.7" text-anchor="end" fill="#000">-6439</text>
<text x="628.9" y="535.30" font-size="8.7" text-anchor="end" fill="#000">4895</text>
<text x="718.4" y="535.30" font-size="8.7" text-anchor="end" fill="#000">2100</text>
<text x="808.0" y="535.30" font-size="8.7" text-anchor="end" fill="#000">1930</text>
<text x="897.6" y="535.30" font-size="8.7" text-anchor="end" fill="#000">4725</text>
<text x="47.0" y="548.63" font-size="8.9" font-weight="bold" text-anchor="middle" fill="#111">13.06.23</text>
<text x="179.7" y="548.63" font-size="8.7" text-anchor="end" fill="#000">-9922</text>
<text x="269.5" y="548.63" font-size="8.7" text-anchor="end" fill="#000">-3323</text>
<text x="359.4" y="548.63" font-size="8.7" text-anchor="end" fill="#000">502</text>
<text x="449.3" y="548.63" font-size="8.7" text-anchor="end" fill="#000">36997</text>
<text x="539.2" y="548.63" font-size="8.7" text-anchor="end" fill="#000">30152</text>
<text x="628.9" y="548.63" font-size="8.7" text-anchor="end" fill="#000">27577</text>
<text x="718.4" y="548.63" font-size="8.7" text-anchor="end" fill="#000">27331</text>
<text x="808.0" y="548.63" font-size="8.7" text-anchor="end" fill="#000">8750</text>
<text x="897.6" y="548.63" font-size="8.7" text-anchor="end" fill="#000">8996</text>
<text x="47.0" y="561.96" font-size="8.9" font-weight="bold" text-anchor="middle" fill="#111">20.06.23</text>
<text x="179.7" y="561.96" font-size="8.7" text-anchor="end" fill="#000">3261</text>
<text x="269.5" y="561.96" font-size="8.7" text-anchor="end" fill="#000">10434</text>
<text x="359.4" y="561.96" font-size="8.7" text-anchor="end" fill="#000">-19003</text>
<text x="449.3" y="561.96" font-size="8.7" text-anchor="end" fill="#000">-57883</text>
<text x="539.2" y="561.96" font-size="8.7" text-anchor="end" fill="#000">-62231</text>
<text x="628.9" y="561.96" font-size="8.7" font-weight="bold" text-anchor="end" fill="#000">-73625</text>
<text x="718.4" y="561.96" font-size="8.7" font-weight="bold" text-anchor="end" fill="#000">-70800</text>
<text x="808.0" y="561.96" font-size="8.7" text-anchor="end" fill="#000">-11690</text>
<text x="897.6" y="561.96" font-size="8.7" text-anchor="end" fill="#000">-14515</text>
<rect x="0" y="0" width="900" height="1" fill="#a8a8a8"/>
<rect x="0" y="0" width="1" height="566" fill="#c4c4c4"/>
<rect x="1" y="1" width="898" height="1" fill="#000"/>
<rect x="1" y="1" width="1" height="565" fill="#000"/>
<rect x="898.7" y="1" width="1.3" height="565" fill="#000"/>
<rect x="1" y="282" width="898" height="1.5" fill="#000"/>
<rect x="1" y="564.8" width="899" height="1.2" fill="#000"/>
</svg></body></html>
